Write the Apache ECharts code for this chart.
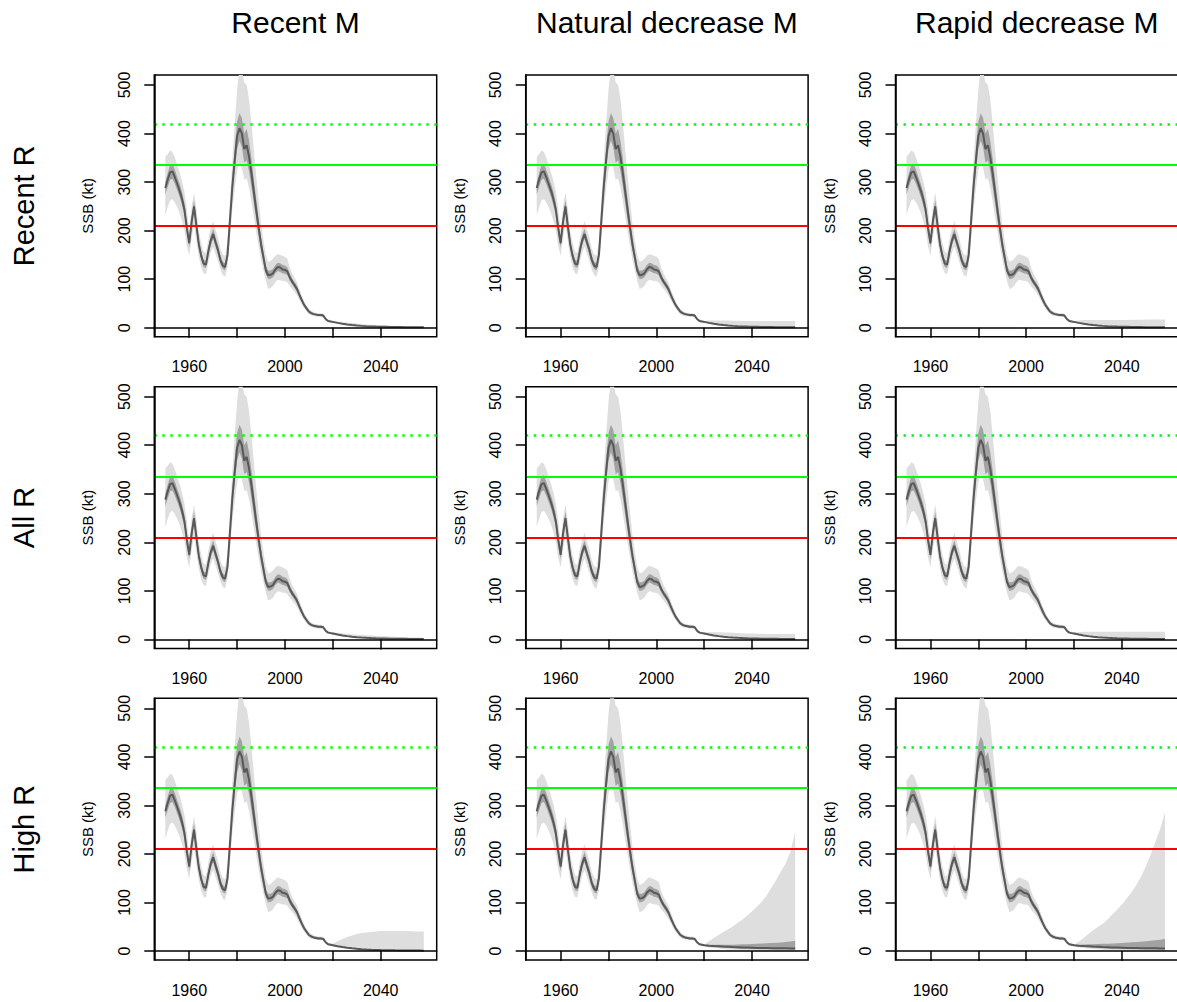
<!DOCTYPE html>
<html>
<head>
<meta charset="utf-8">
<script src="https://cdn.jsdelivr.net/npm/echarts@6/dist/echarts.min.js"></script>
<style>
  html, body { margin: 0; padding: 0; background: #fff; }
  #chart { width: 1177px; height: 1002px; }
</style>
</head>
<body>
<div id="chart"></div>
<script>
// panel headings
var colTitles = ['Recent M', 'Natural decrease M', 'Rapid decrease M'];
var rowTitles = ['Recent R', 'All R', 'High R'];
var yName = 'SSB (kt)';

// reference points (kt): red = Blim, green = Bpa, dotted green
var refLines = [210, 336, 420];

var xTickVals = [1960, 1980, 2000, 2020, 2040];
var xLabelVals = [1960, 2000, 2040];
var yTickVals = [0, 100, 200, 300, 400, 500];

// assessment years, identical in every panel
var histYears = [1950, 1951, 1952, 1953, 1954, 1955, 1956, 1957, 1958, 1959,
  1960, 1961, 1962, 1963, 1964, 1965, 1966, 1967, 1968, 1969,
  1970, 1971, 1972, 1973, 1974, 1975, 1976, 1977, 1978, 1979,
  1980, 1981, 1982, 1983, 1984, 1985, 1986, 1987, 1988, 1989,
  1990, 1991, 1992, 1993, 1994, 1995, 1996, 1997, 1998, 1999,
  2000, 2001, 2002, 2003, 2004, 2005, 2006, 2007, 2008, 2009,
  2010, 2011, 2012, 2013, 2014, 2015, 2016, 2017, 2018, 2019];
var histMed = [288, 305, 320, 322, 310, 296, 282, 265, 243, 205,
  174, 218, 250, 210, 172, 148, 132, 130, 158, 180,
  193, 176, 160, 140, 128, 125, 150, 220, 290, 345,
  395, 411, 400, 368, 376, 352, 318, 280, 242, 206,
  172, 145, 118, 108, 109, 112, 120, 125, 124, 120,
  119, 116, 104, 95, 88, 80, 68, 57, 47, 40,
  33, 30, 28, 27, 26, 26, 25, 18, 14, 13];
var histLo = [232, 248, 262, 265, 258, 248, 236, 220, 200, 168,
  148, 185, 212, 178, 146, 124, 112, 110, 135, 155,
  167, 152, 137, 120, 108, 105, 126, 185, 243, 285,
  325, 338, 330, 305, 308, 288, 260, 228, 197, 168,
  140, 118, 96, 80, 82, 86, 94, 99, 98, 96,
  96, 93, 86, 80, 74, 67, 57, 48, 40, 34,
  28, 25, 24, 23, 22, 22, 21, 15, 12, 11];
var histHi = [352, 358, 365, 362, 350, 335, 320, 302, 280, 245,
  200, 250, 278, 245, 200, 175, 156, 154, 183, 206,
  220, 202, 186, 163, 151, 148, 178, 262, 345, 420,
  490, 535, 530, 505, 500, 470, 420, 365, 312, 262,
  215, 180, 150, 136, 138, 142, 148, 152, 150, 148,
  146, 142, 124, 112, 103, 94, 80, 67, 55, 46,
  39, 35, 32, 31, 30, 30, 29, 21, 17, 16];
var histInLo = [275, 290, 305, 307, 296, 283, 269, 252, 231, 194,
  165, 207, 238, 199, 163, 140, 125, 123, 150, 171,
  183, 167, 151, 132, 121, 118, 142, 208, 273, 323,
  368, 385, 372, 340, 345, 322, 290, 256, 222, 190,
  160, 135, 110, 100, 101, 104, 112, 117, 115, 112,
  111, 108, 97, 89, 82, 74, 63, 53, 44, 37,
  31, 28, 26, 25, 24, 24, 23, 17, 13, 12];
var histInHi = [300, 318, 335, 338, 325, 310, 296, 279, 256, 217,
  184, 230, 263, 222, 182, 157, 140, 138, 167, 190,
  204, 186, 170, 149, 136, 133, 160, 234, 310, 370,
  425, 442, 432, 400, 410, 385, 348, 306, 264, 224,
  186, 157, 128, 118, 118, 121, 129, 134, 133, 129,
  128, 124, 111, 101, 94, 86, 73, 61, 50, 43,
  35, 32, 30, 29, 28, 28, 27, 19, 15, 14];

// projection years
var projYears = [2020, 2022, 2024, 2026, 2028, 2030, 2032, 2034, 2036, 2038,
  2040, 2042, 2044, 2046, 2048, 2050, 2052, 2054, 2056, 2058];
// median / bands when the stock keeps declining
var projMedA = [12, 10, 8.3, 6.8, 5.6, 4.6, 3.8, 3.2, 2.7, 2.3, 2.0, 1.8, 1.6, 1.4, 1.3, 1.2, 1.1, 1.0, 0.9, 0.8];
var projLoA = [10, 8, 6.5, 5, 4, 3.2, 2.6, 2.1, 1.7, 1.4, 1.2, 1, 0.9, 0.8, 0.7, 0.6, 0.5, 0.5, 0.4, 0.4];
var projInLoA = [11, 9.3, 7.6, 6.2, 5.1, 4.1, 3.4, 2.8, 2.4, 2, 1.7, 1.5, 1.4, 1.2, 1.1, 1, 0.9, 0.8, 0.8, 0.7];
var projInHiA = [13, 11, 9.2, 7.6, 6.3, 5.2, 4.3, 3.7, 3.1, 2.7, 2.4, 2.1, 1.9, 1.7, 1.5, 1.4, 1.3, 1.2, 1.1, 1];
// median / bands under high recruitment with lower M
var projMedB = [12, 11, 10.3, 9.7, 9.1, 8.6, 8.1, 7.7, 7.3, 7, 6.7, 6.4, 6.2, 6, 5.8, 5.7, 5.6, 5.5, 5.4, 5.3];
var projLoB = [10, 7.5, 6, 5, 4, 3.3, 2.8, 2.4, 2, 1.7, 1.5, 1.3, 1.1, 1, 0.9, 0.8, 0.7, 0.6, 0.5, 0.5];
var projInLoB = [11, 9.5, 8.5, 7.6, 6.9, 6.3, 5.8, 5.3, 4.9, 4.6, 4.3, 4, 3.8, 3.6, 3.4, 3.3, 3.2, 3.1, 3, 3];
var projInHiB2 = [13, 13, 13, 13, 13, 13, 13, 13.5, 14, 14, 14.5, 15, 15.5, 16, 16.5, 17, 17.5, 18.5, 19.5, 21];
var projInHiB3 = [13, 13, 13.5, 14, 14, 14.5, 15, 15, 15.5, 16, 16.5, 17, 18, 18.5, 19, 20, 21, 22, 23, 25];
// outer upper bound per panel
var hiR1C1 = [14, 13, 12, 10.5, 9.5, 8.5, 7.5, 6.5, 6, 5.5, 5, 4.6, 4.2, 3.9, 3.6, 3.4, 3.2, 3, 2.8, 2.6];
var hiR1C2 = [14, 15, 15, 15, 15, 15, 14.5, 14.5, 14, 14, 14, 14, 14, 14, 14, 14, 14, 14, 14, 14];
var hiR1C3 = [14, 15, 16, 16, 16, 16, 16, 16, 16, 16, 16, 16, 16.5, 16.5, 16.5, 17, 17, 17, 17, 17];
var hiR2C1 = [14, 13.5, 12.5, 11.5, 10.5, 9.5, 9, 8.5, 8, 7.5, 7, 6.5, 6, 5.5, 5, 4.5, 4.2, 4, 3.8, 3.6];
var hiR2C2 = [14, 15, 15, 15, 14.5, 14, 13.5, 13, 12.5, 12, 12, 11.5, 11.5, 11, 11, 11, 11, 11, 11, 11];
var hiR2C3 = [14, 15, 16, 16, 16, 16, 16, 16, 16, 16, 16, 16, 16, 16, 16, 16, 16, 16, 16, 16];
var hiR3C1 = [15, 20, 25, 29, 32, 35, 37, 38, 39, 40, 41, 41, 41, 41, 41, 41, 41, 40, 40, 40];
var hiR3C2 = [13, 20, 27, 33, 39, 45, 51, 58, 65, 73, 82, 91, 101, 114, 130, 146, 164, 180, 205, 245];
var hiR3C3 = [13, 19, 27, 35, 43, 50, 56, 65, 75, 85, 96, 108, 121, 136, 153, 174, 198, 225, 252, 285];

// which projection goes in which panel (row-major)
var panelMed = [projMedA, projMedA, projMedA, projMedA, projMedA, projMedA, projMedA, projMedB, projMedB];
var panelLo = [projLoA, projLoA, projLoA, projLoA, projLoA, projLoA, projLoA, projLoB, projLoB];
var panelHi = [hiR1C1, hiR1C2, hiR1C3, hiR2C1, hiR2C2, hiR2C3, hiR3C1, hiR3C2, hiR3C3];
var panelInLo = [projInLoA, projInLoA, projInLoA, projInLoA, projInLoA, projInLoA, projInLoA, projInLoB, projInLoB];
var panelInHi = [projInHiA, projInHiA, projInHiA, projInHiA, projInHiA, projInHiA, projInHiA, projInHiB2, projInHiB3];

var FONT = '"Liberation Sans", Arial, sans-serif';
var colLeft = [154.3, 525.7, 895.5];
var rowTop = [75, 386.7, 698.3];
var PW = 282.4, PH = 261.7;

var chart = echarts.init(document.getElementById('chart'), null, { renderer: 'svg' });

var grids = [], xAxes = [], yAxes = [], series = [], graphics = [];
var years = histYears.concat(projYears);

function pairs(vals) {
  return years.map(function (y, i) { return [y, vals[i]]; });
}

// one polygon per band: upper edge left->right, lower edge right->left
function bandSeries(p, lo, hi, color, z) {
  return {
    type: 'custom', xAxisIndex: p, yAxisIndex: p, z: z, silent: true, clip: true,
    encode: { x: 0, y: [1, 2] },
    data: years.map(function (y, i) { return [y, lo[i], hi[i]]; }),
    renderItem: function (params, api) {
      if (params.dataIndex !== 0) return null;
      var top = [], bot = [];
      for (var i = 0; i < params.dataInsideLength; i++) {
        top.push(api.coord([api.value(0, i), api.value(2, i)]));
        bot.push(api.coord([api.value(0, i), api.value(1, i)]));
      }
      return { type: 'polygon', shape: { points: top.concat(bot.reverse()) }, style: { fill: color } };
    }
  };
}

for (var r = 0; r < 3; r++) {
  for (var c = 0; c < 3; c++) {
    var p = r * 3 + c;
    grids.push({
      left: colLeft[c], top: rowTop[r], width: PW, height: PH,
      show: true, borderColor: '#000', borderWidth: 1.5, backgroundColor: 'transparent',
      outerBoundsMode: 'none', containLabel: false
    });
    xAxes.push({
      type: 'value', gridIndex: p, min: 1945.4, max: 2063.4, z: 10,
      axisLine: { show: true, lineStyle: { color: '#000', width: 1.5 } },
      axisTick: { show: true, length: 10, lineStyle: { color: '#000', width: 1.5 }, customValues: xTickVals },
      axisLabel: {
        show: true, margin: 22, color: '#000', fontSize: 16, fontFamily: FONT, customValues: xLabelVals,
        formatter: function (v) { return String(v); }
      },
      splitLine: { show: false }
    });
    yAxes.push({
      type: 'value', gridIndex: p, min: -18.5, max: 520.6, z: 10,
      name: yName, nameLocation: 'middle', nameGap: 59, nameRotate: 90,
      nameTextStyle: { color: '#000', fontSize: 15, fontFamily: FONT },
      axisLine: { show: true, lineStyle: { color: '#000', width: 1.5 } },
      axisTick: { show: true, length: 10, lineStyle: { color: '#000', width: 1.5 }, customValues: yTickVals },
      axisLabel: {
        show: true, rotate: 90, margin: 22, color: '#000', fontSize: 16, fontFamily: FONT, customValues: yTickVals,
        formatter: function (v) { return String(v); }
      },
      splitLine: { show: false }
    });

    var med = histMed.concat(panelMed[p]);
    var lo = histLo.concat(panelLo[p]);
    var hi = histHi.concat(panelHi[p]);
    var ilo = histInLo.concat(panelInLo[p]);
    var ihi = histInHi.concat(panelInHi[p]);

    series.push(bandSeries(p, lo, hi, '#dedede', 1));
    series.push(bandSeries(p, ilo, ihi, '#a2a2a2', 2));
    series.push({
      type: 'line', xAxisIndex: p, yAxisIndex: p, symbol: 'none', silent: true, z: 3,
      data: pairs(med), lineStyle: { color: '#585858', width: 2 }
    });
    series.push({
      type: 'line', xAxisIndex: p, yAxisIndex: p, symbol: 'none', silent: true, z: 4, data: [],
      markLine: {
        silent: true, symbol: ['none', 'none'], label: { show: false }, animation: false,
        data: [
          { yAxis: refLines[0], lineStyle: { color: '#ff0000', width: 2, type: 'solid' } },
          { yAxis: refLines[1], lineStyle: { color: '#00ff00', width: 2, type: 'solid' } },
          { yAxis: refLines[2], lineStyle: { color: '#00ff00', width: 2.5, type: [2.5, 5.5] } }
        ]
      }
    });
  }
}

colTitles.forEach(function (t, c) {
  graphics.push({
    type: 'text', x: colLeft[c] + PW / 2, y: 22,
    style: { text: t, fill: '#000', font: '30px ' + FONT, textAlign: 'center', textVerticalAlign: 'middle' }
  });
});
rowTitles.forEach(function (t, r) {
  graphics.push({
    type: 'text', x: 24, y: rowTop[r] + PH / 2, rotation: Math.PI / 2,
    style: { text: t, fill: '#000', font: '29px ' + FONT, textAlign: 'center', textVerticalAlign: 'middle' }
  });
});

chart.setOption({
  animation: false,
  backgroundColor: '#ffffff',
  grid: grids,
  xAxis: xAxes,
  yAxis: yAxes,
  series: series,
  graphic: graphics
});
</script>
</body>
</html>
